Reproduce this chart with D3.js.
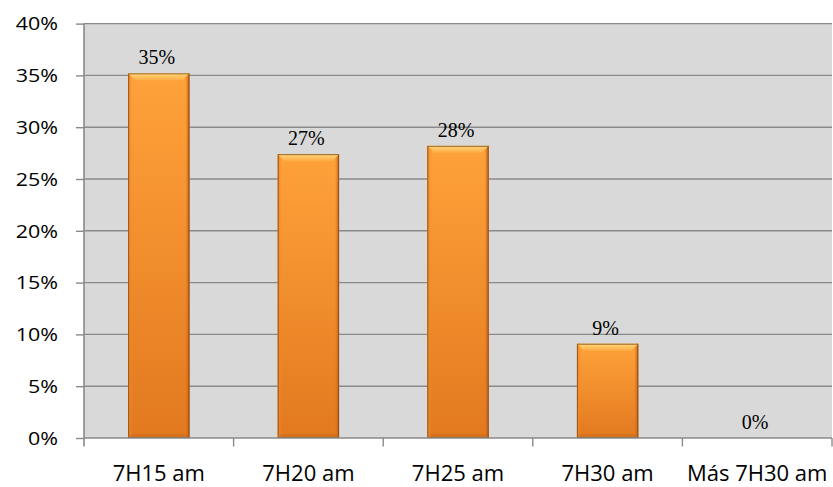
<!DOCTYPE html>
<html>
<head>
<meta charset="utf-8">
<script src="https://cdn.jsdelivr.net/npm/d3@7"></script>
<style>
  html, body { margin: 0; padding: 0; background: #ffffff; }
  svg { display: block; }
</style>
</head>
<body>
<svg id="chart" width="833" height="487"></svg>
<script>
// Arrival time shares
const categories = ["7H15 am", "7H20 am", "7H25 am", "7H30 am", "Más 7H30 am"];
const shares = [0.352, 0.274, 0.282, 0.091, 0.0];
const yTicks = [0, 0.05, 0.10, 0.15, 0.20, 0.25, 0.30, 0.35, 0.40];

const W = 833, H = 487;
const margin = { top: 23.6, right: 1, bottom: 49, left: 84 };
const svg = d3.select("#chart");
const innerW = W - margin.left - margin.right;
const innerH = H - margin.top - margin.bottom;

const x = d3.scaleBand().domain(categories).range([0, innerW]).paddingInner(0.59).paddingOuter(0.295);
const xCat = d3.scaleBand().domain(categories).range([0, innerW]);
const y = d3.scaleLinear().domain([0, 0.40]).range([innerH, 0]);

const defs = svg.append("defs");
const body = defs.append("linearGradient").attr("id", "barBody").attr("x1", 0).attr("y1", 0).attr("x2", 0).attr("y2", 1);
body.append("stop").attr("offset", "0%").attr("stop-color", "#ffa23a");
body.append("stop").attr("offset", "100%").attr("stop-color", "#e2791f");
const bevelTop = defs.append("linearGradient").attr("id", "bevelTop").attr("x1", 0).attr("y1", 0).attr("x2", 0).attr("y2", 1);
bevelTop.append("stop").attr("offset", "0%").attr("stop-color", "#ffd77a");
bevelTop.append("stop").attr("offset", "100%").attr("stop-color", "#ffab45");
const sideL = defs.append("linearGradient").attr("id", "sideL").attr("x1", 0).attr("y1", 0).attr("x2", 1).attr("y2", 0);
sideL.append("stop").attr("offset", "0%").attr("stop-color", "#f08a28").attr("stop-opacity", 1);
sideL.append("stop").attr("offset", "100%").attr("stop-color", "#f08a28").attr("stop-opacity", 0);
const sideR = defs.append("linearGradient").attr("id", "sideR").attr("x1", 0).attr("y1", 0).attr("x2", 1).attr("y2", 0);
sideR.append("stop").attr("offset", "0%").attr("stop-color", "#c8641a").attr("stop-opacity", 0);
sideR.append("stop").attr("offset", "100%").attr("stop-color", "#c8641a").attr("stop-opacity", 1);

const g = svg.append("g").attr("transform", `translate(${margin.left},${margin.top})`);

// plot background
g.append("rect").attr("x", 0).attr("y", 0).attr("width", innerW).attr("height", innerH).attr("fill", "#d9d9d9");

// horizontal gridlines
g.append("g").selectAll("line").data(yTicks.filter(t => t > 0)).join("line")
  .attr("x1", 0).attr("x2", innerW)
  .attr("y1", d => y(d)).attr("y2", d => y(d))
  .attr("stroke", "#8a8a8a").attr("stroke-width", 1.4);

// bars
const bars = g.append("g").selectAll("g.bar").data(categories.map((c, i) => ({ c, v: shares[i] })).filter(d => d.v > 0))
  .join("g").attr("class", "bar");
const bevel = 7, side = 4;
bars.append("rect")
  .attr("x", d => x(d.c)).attr("y", d => y(d.v))
  .attr("width", x.bandwidth()).attr("height", d => y(0) - y(d.v))
  .attr("fill", "url(#barBody)");
bars.append("rect")
  .attr("x", d => x(d.c)).attr("y", d => y(d.v))
  .attr("width", side).attr("height", d => y(0) - y(d.v))
  .attr("fill", "url(#sideL)");
bars.append("rect")
  .attr("x", d => x(d.c) + x.bandwidth() - side).attr("y", d => y(d.v))
  .attr("width", side).attr("height", d => y(0) - y(d.v))
  .attr("fill", "url(#sideR)");
bars.append("path")
  .attr("d", d => {
    const x0 = x(d.c), x1 = x0 + x.bandwidth(), y0 = y(d.v);
    return `M${x0},${y0}L${x1},${y0}L${x1 - bevel},${y0 + bevel}L${x0 + bevel},${y0 + bevel}Z`;
  })
  .attr("fill", "url(#bevelTop)");
bars.append("path")
  .attr("d", d => {
    const x0 = x(d.c), x1 = x0 + x.bandwidth(), y1 = y(0);
    return `M${x0},${y1}L${x1},${y1}L${x1 - 4},${y1 - 4}L${x0 + 4},${y1 - 4}Z`;
  })
  .attr("fill", "#d06e1c").attr("opacity", 0.7);
bars.append("rect")
  .attr("x", d => x(d.c) + 0.5).attr("y", d => y(d.v) + 0.5)
  .attr("width", x.bandwidth() - 1).attr("height", d => y(0) - y(d.v) - 1)
  .attr("fill", "none").attr("stroke", "#7a4514").attr("stroke-width", 1).attr("stroke-opacity", 0.75);

// value labels
const pct = d3.format(".0%");
g.append("g").selectAll("text").data(categories.map((c, i) => ({ c, v: shares[i] }))).join("text")
  .attr("x", d => x(d.c) + x.bandwidth() / 2 - 2)
  .attr("y", d => y(d.v) - 9)
  .attr("text-anchor", "middle")
  .attr("font-family", "'Liberation Serif', 'Times New Roman', serif")
  .attr("font-weight", 400)
  .attr("font-size", 20)
  .attr("fill", "#000")
  .text(d => pct(d.v));

// left axis
const yAxis = d3.axisLeft(y).tickValues(yTicks).tickFormat(d3.format(".0%")).tickSize(8).tickSizeOuter(0);
const ya = g.append("g").call(yAxis);
ya.select(".domain").attr("stroke", "#8a8a8a").attr("stroke-width", 1.6).attr("d", `M0,0V${innerH + 8.5}`);
ya.selectAll(".tick line").attr("stroke", "#8a8a8a").attr("stroke-width", 1.4);
const sx = 1.22;
ya.selectAll(".tick text")
  .attr("font-family", "'Open Sans', Lato, sans-serif")
  .attr("font-weight", 400)
  .attr("font-size", 17.6)
  .attr("fill", "#000")
  .attr("dy", "0.36em")
  .attr("x", -26 / sx)
  .attr("transform", `scale(${sx},1)`);

// bottom axis
const xa = g.append("g").attr("transform", `translate(0,${innerH})`);
xa.append("line").attr("x1", 0).attr("x2", innerW).attr("y1", 0).attr("y2", 0)
  .attr("stroke", "#8a8a8a").attr("stroke-width", 1.6);
const boundaries = d3.range(categories.length + 1).map(i => i * xCat.step());
xa.selectAll("line.tk").data(boundaries.slice(1)).join("line").attr("class", "tk")
  .attr("x1", d => d).attr("x2", d => d).attr("y1", 0).attr("y2", 8.5)
  .attr("stroke", "#8a8a8a").attr("stroke-width", 1.4);
xa.selectAll("text").data(categories).join("text")
  .attr("x", d => xCat(d) + xCat.bandwidth() / 2)
  .attr("y", 42.7)
  .attr("text-anchor", "middle")
  .attr("font-family", "'Open Sans', Lato, sans-serif")
  .attr("font-weight", 400)
  .attr("font-size", 22)
  .attr("fill", "#000")
  .text(d => d);
</script>
</body>
</html>
